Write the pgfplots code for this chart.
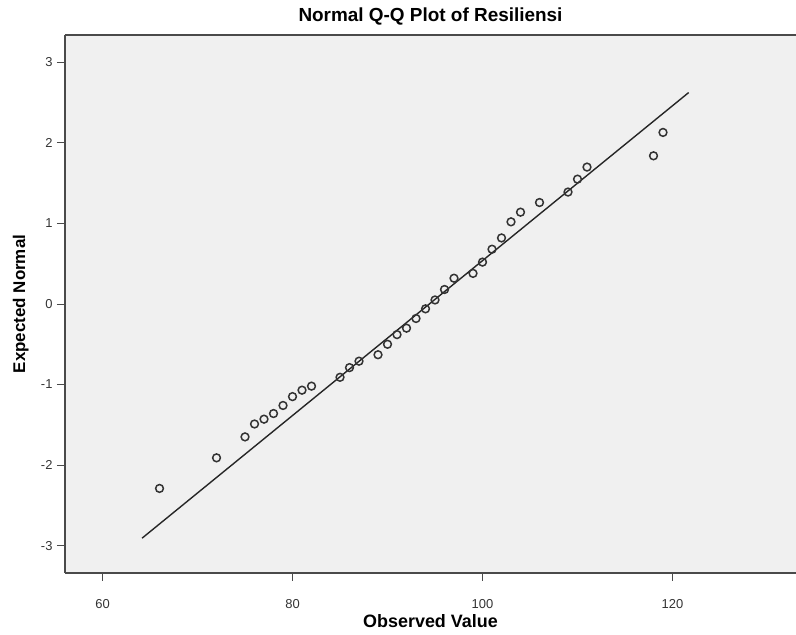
\documentclass[border=0pt]{standalone}
\usepackage{pgfplots}
\pgfplotsset{compat=1.18}
\usepackage{fontspec}
\setmainfont{Liberation Sans}
\definecolor{bggray}{HTML}{F0F0F0}
\definecolor{framegray}{HTML}{4A4A4A}
\begin{document}
\begin{tikzpicture}[x=1bp,y=1bp]
\useasboundingbox (-65,-62) rectangle (731,573);
\begin{axis}[
  at={(0,0)}, anchor=south west,
  scale only axis, width=731bp, height=538bp,
  xmin=56.05, xmax=133, ymin=-3.34, ymax=3.34,
  axis x line*=bottom, axis y line*=left,
  axis background/.style={fill=bggray},
  axis line style={line width=1.5bp, color=framegray},
  xtick={60,80,100,120}, ytick={-3,-2,-1,0,1,2,3},
  minor tick num=0,
  tick align=outside, major tick length=8bp,
  tick style={framegray, line width=0.9bp},
  /pgf/number format/assume math mode=true,
  ticklabel style={font=\fontsize{13}{15}\selectfont, text=black!80},
  xticklabel style={yshift=-15bp},
  yticklabel style={xshift=-1bp},
  title={Normal Q-Q Plot of Resiliensi},
  title style={at={(0.5,1.014)}, anchor=base, font=\bfseries\fontsize{19}{22}\selectfont},
  xlabel={Observed Value},
  xlabel style={at={(0.5,-0.1004)}, anchor=base, font=\bfseries\fontsize{18}{21}\selectfont},
  ylabel={Expected Normal},
  ylabel style={at={(-0.0547,0.5)}, anchor=base, font=\bfseries\fontsize{17}{20}\selectfont},
]
\draw[line width=1.5bp, framegray] (rel axis cs:0,1) -- (rel axis cs:1,1);
\addplot[no marks, line width=1.4bp, black!85] coordinates {(64.16,-2.908) (121.7,2.625)};
\addplot[only marks, mark=o, mark size=3.9bp, mark options={line width=1.5bp, draw=black!80}] coordinates {
(66,-2.29) (72,-1.91) (75,-1.65) (76,-1.49) (77,-1.43) (78,-1.36) (79,-1.26) (80,-1.15)
(81,-1.07) (82,-1.02) (85,-0.91) (86,-0.79) (87,-0.71) (89,-0.63) (90,-0.50) (91,-0.38)
(92,-0.30) (93,-0.18) (94,-0.06) (95,0.05) (96,0.18) (97,0.32) (99,0.38) (100,0.52)
(101,0.68) (102,0.82) (103,1.02) (104,1.14) (106,1.26) (109,1.39) (110,1.55) (111,1.70)
(118,1.84) (119,2.13)
};
\end{axis}
\end{tikzpicture}
\end{document}
